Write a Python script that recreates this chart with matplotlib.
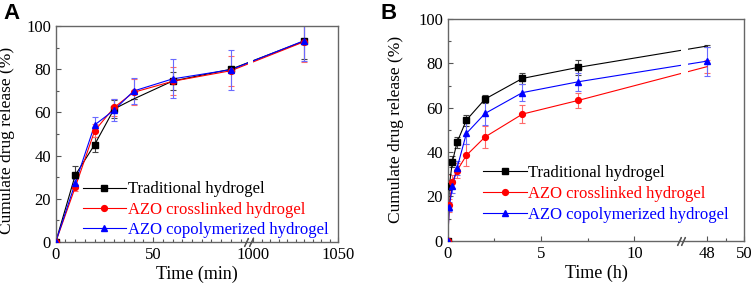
import numpy as np
import matplotlib.pyplot as plt
import matplotlib.transforms as mtransforms
from matplotlib.lines import Line2D

# Panel A - release vs time (min)
tA = [0, 10, 20, 30, 40, 60, 90, 1030]
tradA = [0, 30.9, 45.1, 61.6, 66.2, 74.5, 80.0, 93.0]
tradA_err = [0, 4.5, 3.5, 4.0, 0, 4.0, 1.0, 8.5]
crossA = [0, 25.3, 51.5, 62.3, 69.3, 74.4, 79.3, 92.7]
crossA_err = [0, 1.5, 3.0, 4.0, 6.0, 6.5, 7.0, 9.5]
copoA = [0, 27.2, 54.2, 61.1, 69.9, 75.5, 79.8, 93.2]
copoA_err = [0, 2.0, 3.5, 5.0, 6.0, 9.0, 9.3, 9.5]

# Panel B - release vs time (h)
tB = [0, 0.083, 0.25, 0.5, 1, 2, 4, 7, 48]
tradB = [0, 24.7, 35.6, 44.4, 54.4, 63.9, 73.2, 78.2, 87.8]
tradB_err = [0, 2.0, 2.5, 2.5, 2.5, 2.0, 2.5, 3.5, 0.5]
crossB = [0, 16.0, 26.6, 31.6, 38.5, 46.8, 57.1, 63.3, 78.5]
crossB_err = [0, 3.0, 3.0, 3.5, 5.0, 5.0, 4.0, 3.5, 3.0]
copoB = [0, 15.3, 24.5, 32.8, 48.4, 57.4, 66.8, 71.7, 81.0]
copoB_err = [0, 2.0, 3.0, 3.0, 5.0, 5.0, 4.0, 4.0, 6.5]

labels = ['Traditional hydrogel', 'AZO crosslinked hydrogel', 'AZO copolymerized hydrogel']
colors = ['black', 'red', 'blue']
err_colors = ['#444444', '#ff6a6a', '#6a6aff']
markers = ['s', 'o', '^']

plt.rcParams['font.family'] = 'Liberation Serif'


def broken_scale(a, b, s1, x2, p2, s2):
    # piecewise linear axis: [0, a] and [b, ...] with a squeezed gap in between
    pa = a * s1
    pb = p2 + (b - x2) * s2

    def fwd(x):
        x = np.asarray(x, dtype=float)
        return np.where(x <= a, x * s1,
                        np.where(x >= b, p2 + (x - x2) * s2,
                                 pa + (x - a) * (pb - pa) / (b - a)))

    def inv(y):
        y = np.asarray(y, dtype=float)
        return np.where(y <= pa, y / s1,
                        np.where(y >= pb, x2 + (y - p2) / s2,
                                 a + (y - pa) * (b - a) / (pb - pa)))
    return fwd, inv


def draw_panel(ax, t, series, errs, skip, a, b, xbreak):
    for i in range(3):
        ax.errorbar(t, series[i], yerr=errs[i], fmt='none', ecolor=err_colors[i],
                    elinewidth=0.8, capsize=2, capthick=0.8, zorder=1.5 + 0.1 * i)
        ax.plot(t, series[i], '-', color=colors[i], lw=0.8, zorder=2 + 0.01 * i)
        keep = [k for k in range(len(t)) if k not in skip[i]]
        ax.plot([t[k] for k in keep], [series[i][k] for k in keep], ls='none',
                marker=markers[i], color=colors[i], markersize=4.2, zorder=2.6 + 0.01 * i)
    ax.axvspan(a, b, color='white', zorder=2.3, lw=0)
    # "//" break marks on the bottom axis, drawn as two short strokes
    trans = mtransforms.blended_transform_factory(ax.transData, ax.transAxes)
    for dx in (-2.2, 2.2):
        off = mtransforms.offset_copy(trans, fig=ax.figure, x=dx, y=0, units='dots')
        ax.plot([xbreak, xbreak], [0, 0], transform=off, ls='none', marker=(2, 0, -25),
                markersize=7, markeredgewidth=0.9, color='#555555', clip_on=False, zorder=3)
    ax.set_ylim(0, 100)
    ax.set_yticks([0, 20, 40, 60, 80, 100])
    ax.set_yticks(np.arange(10, 100, 20), minor=True)
    ax.tick_params(which='both', direction='in', top=False, right=False,
                   colors='#555555', labelcolor='black', labelsize=12, width=0.8)
    ax.tick_params(which='major', length=3.5)
    ax.tick_params(which='minor', length=2)
    for s in ax.spines.values():
        s.set_color('#666666')
        s.set_linewidth(1.0)
    ax.set_ylabel('Cumulate drug release (%)', fontsize=12.5)
    handles = [Line2D([], [], color=colors[i], marker=markers[i], markersize=4.2, lw=0.8)
               for i in range(3)]
    return handles


fig = plt.figure(figsize=(7.54, 2.88), dpi=100)

# ---- Panel A
axA = fig.add_axes([0.0739, 0.1597, 0.3744, 0.75])
fA, iA = broken_scale(99, 1000, 1.947, 1000, 197.3, 1.70)
axA.set_xscale('function', functions=(fA, iA))
axA.set_xlim(0, 1050)
hA = draw_panel(axA, tA, [tradA, crossA, copoA], [tradA_err, crossA_err, copoA_err],
                [[4], [], []], 99.2, 1000, 99.6)
axA.yaxis.set_label_coords(-0.145, 0.47)
axA.set_xticks([0, 50, 1000, 1050])
axA.set_xticklabels(['0', '50', '1000', '1050'])
axA.set_xticks(list(range(5, 50, 5)) + list(range(55, 100, 5)) + list(range(1005, 1050, 5)),
               minor=True)
axA.set_xlabel('Time (min)', fontsize=13, labelpad=2)
legA = axA.legend(hA, labels, loc='lower left', bbox_to_anchor=(0.095, 0.02),
                  frameon=False, borderpad=0, borderaxespad=0, fontsize=12,
                  handlelength=2.6, handletextpad=0.1, labelspacing=0.25,
                  labelcolor=colors)
fig.text(0.004, 0.99, 'A', family='Liberation Sans', weight='bold', fontsize=16,
         ha='left', va='top')

# ---- Panel B
axB = fig.add_axes([0.5938, 0.1642, 0.3936, 0.7698])
fB, iB = broken_scale(12.5, 47, 18.67, 48, 259.3, 18.75)
axB.set_xscale('function', functions=(fB, iB))
axB.set_xlim(0, 50)
hB = draw_panel(axB, tB, [tradB, crossB, copoB], [tradB_err, crossB_err, copoB_err],
                [[8], [8], []], 12.6, 47, 12.8)
axB.yaxis.set_label_coords(-0.149, 0.5)
axB.set_xticks([0, 5, 10, 48, 50])
axB.set_xticklabels(['0', '5', '10', '48', '50'])
axB.set_xticks([2.5, 7.5, 49], minor=True)
axB.set_xlabel('Time (h)', fontsize=13, labelpad=2)
legB = axB.legend(hB, labels, loc='lower left', bbox_to_anchor=(0.12, 0.08),
                  frameon=False, borderpad=0, borderaxespad=0, fontsize=12,
                  handlelength=2.6, handletextpad=0.1, labelspacing=0.3,
                  labelcolor=colors)
fig.text(0.504, 0.99, 'B', family='Liberation Sans', weight='bold', fontsize=16,
         ha='left', va='top')

fig.savefig('out.png', dpi=100)
